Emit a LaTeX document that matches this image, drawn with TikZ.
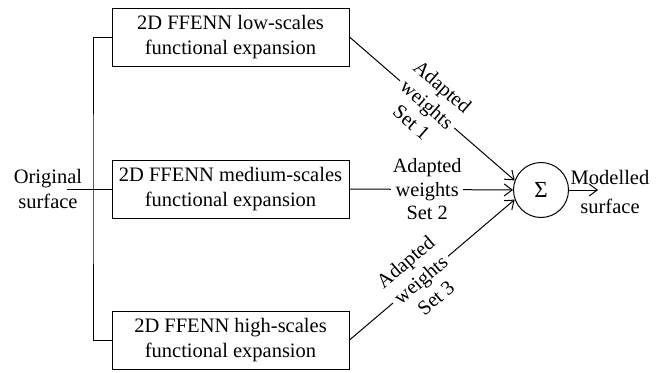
\documentclass[tikz,border=0pt]{standalone}
\usepackage{fontspec}
\setmainfont{Liberation Serif}
\usetikzlibrary{arrows.meta}
\begin{document}
\begin{tikzpicture}[x=1pt,y=-1pt,
  every path/.style={line width=1pt},
  txt/.style={font=\fontsize{20.5}{24.5}\selectfont, align=center},
  box/.style={txt, draw, minimum width=237pt, minimum height=58pt, inner sep=0pt},
  lbl/.style={font=\fontsize{20.3}{23.5}\selectfont, align=center, fill=white, inner sep=1.5pt},
  arr/.style={-{Straight Barb[length=8pt,width=12pt]}}
]
\useasboundingbox (0,0) rectangle (669,372);

% expansion blocks
\node[box] (b1) at (230.5,37)  {2D FFENN low-scales\\functional expansion};
\node[box] (b2) at (230.5,189) {2D FFENN medium-scales\\functional expansion};
\node[box] (b3) at (230.5,340) {2D FFENN high-scales\\functional expansion};

% input and its distribution bracket
\node[txt] (orig) at (48,189) {Original\\surface};
\coordinate (in) at (67,189);
\coordinate (split) at (93,189);
\draw (in) -- (b2.west);
\draw (b1.west) -| (split) |- (b3.west);

% summing node
\node[circle, draw, minimum size=55pt, inner sep=0pt, font=\fontsize{23}{24}\selectfont] (sig) at (541,190) {Σ};

% weighted branches
\draw[arr] (b1.east) -- node[lbl, sloped, pos=0.47] {Adapted\\weights\\Set 1} (sig.160);
\draw[arr] (b2.east) -- node[lbl, pos=0.475] {Adapted\\weights\\Set 2} (sig.west);
\draw[arr] (b3.east) -- node[lbl, sloped, pos=0.43] {Adapted\\weights\\Set 3} (sig.200);

% output
\coordinate (out) at (598,190);
\draw[arr] (sig.east) -- (out);
\node[txt] (mod) at (610,192) {Modelled\\[5pt]surface};
\end{tikzpicture}
\end{document}
